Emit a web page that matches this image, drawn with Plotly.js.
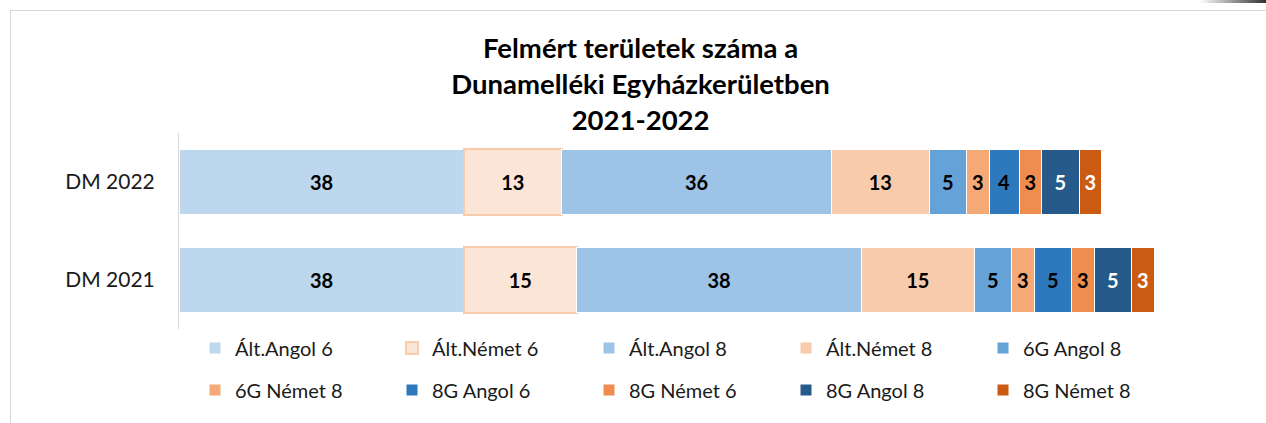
<!DOCTYPE html>
<html>
<head>
<meta charset="utf-8">
<script src="https://cdn.plot.ly/plotly-3.0.1.min.js"></script>
<style>
  html, body { margin: 0; padding: 0; background: #fff; width: 1266px; height: 423px; overflow: hidden; }
  #frame { position: absolute; left: 10px; top: 10px; width: 1300px; height: 500px; border: 1px solid #d9d9d9; box-sizing: border-box; pointer-events: none; }
  #shadow { position: absolute; left: 1200px; top: 0px; width: 66px; height: 3px; background: linear-gradient(to right, #ffffff, #303030); }
  #chart { position: absolute; left: 0; top: 0; width: 1266px; height: 423px; }
</style>
</head>
<body>
<div id="chart"></div>
<div id="frame"></div>
<div id="shadow"></div>
<script>
// Categories (bottom to top)
const categories = ['DM 2021', 'DM 2022'];

// Series names
const seriesNames = ['Ált.Angol 6', 'Ált.Német 6', 'Ált.Angol 8', 'Ált.Német 8', '6G Angol 8',
                     '6G Német 8', '8G Angol 6', '8G Német 6', '8G Angol 8', '8G Német 8'];

// Values per series: [DM 2021, DM 2022]
const altAngol6 = [38, 38];
const altNemet6 = [15, 13];
const altAngol8 = [38, 36];
const altNemet8 = [15, 13];
const g6Angol8  = [5, 5];
const g6Nemet8  = [3, 3];
const g8Angol6  = [5, 4];
const g8Nemet6  = [3, 3];
const g8Angol8  = [5, 5];
const g8Nemet8  = [3, 3];

const seriesValues = [altAngol6, altNemet6, altAngol8, altNemet8, g6Angol8,
                      g6Nemet8, g8Angol6, g8Nemet6, g8Angol8, g8Nemet8];

const colors = ['#BDD7EE', '#FBE5D6', '#9DC3E6', '#F8CBAD', '#65A2D7',
                '#F4A977', '#2E78BD', '#EF8D4F', '#255A8A', '#CB5B13'];
const lineColors = ['#ffffff', '#F8CBAD', '#ffffff', '#ffffff', '#ffffff',
                    '#ffffff', '#ffffff', '#ffffff', '#ffffff', '#ffffff'];
const lineWidths = [1, 2, 1, 1, 1, 1, 1, 1, 1, 1];
const textColors = ['#000', '#000', '#000', '#000', '#000',
                    '#000', '#000', '#000', '#ffffff', '#ffffff'];

const FONT = 'Lato, "Open Sans", sans-serif';

const traces = seriesNames.map((name, i) => ({
  type: 'bar',
  orientation: 'h',
  name: name,
  y: categories,
  x: seriesValues[i],
  text: seriesValues[i].map(String),
  textposition: 'inside',
  insidetextanchor: 'middle',
  textangle: 0,
  textfont: { family: FONT, size: 20, color: textColors[i], weight: 'bold' },
  marker: { color: colors[i], line: { color: lineColors[i], width: lineWidths[i] } },
  legend: i < 5 ? 'legend' : 'legend2',
  hoverinfo: 'name+x'
}));

const legendCommon = {
  orientation: 'h',
  entrywidth: 152,
  entrywidthmode: 'pixels',
  font: { family: FONT, size: 20, color: '#1a1a1a' },
  bgcolor: 'rgba(0,0,0,0)',
  xref: 'container',
  yref: 'container',
  xanchor: 'left',
  yanchor: 'middle',
  traceorder: 'normal',
  itemclick: false,
  itemdoubleclick: false
};

const layout = {
  width: 1266,
  height: 423,
  margin: { l: 179, r: 37, t: 133, b: 94, autoexpand: false },
  paper_bgcolor: '#ffffff',
  plot_bgcolor: '#ffffff',
  barmode: 'stack',
  bargap: 0.327,
  title: {
    text: 'Felmért területek száma a<br>Dunamelléki Egyházkerületben<br>2021-2022',
    font: { family: FONT, size: 27.5, color: '#000', weight: 'bold' },
    x: 0.506,
    xanchor: 'center',
    xref: 'container',
    y: 1 - 58 / 423,
    yanchor: 'middle',
    yref: 'container'
  },
  xaxis: {
    range: [0, 140],
    showgrid: false,
    zeroline: false,
    showticklabels: false,
    showline: false,
    ticks: ''
  },
  yaxis: {
    type: 'category',
    showline: true,
    linecolor: '#d9d9d9',
    linewidth: 1,
    showgrid: false,
    ticks: '',
    ticklabelstandoff: 19,
    tickfont: { family: FONT, size: 21, color: '#1a1a1a' }
  },
  showlegend: true,
  legend: Object.assign({}, legendCommon, { x: 195 / 1266, y: 1 - 348 / 423 }),
  legend2: Object.assign({}, legendCommon, { x: 195 / 1266, y: 1 - 390 / 423 })
};

Plotly.newPlot('chart', traces, layout, { displayModeBar: false, staticPlot: true });
</script>
</body>
</html>
